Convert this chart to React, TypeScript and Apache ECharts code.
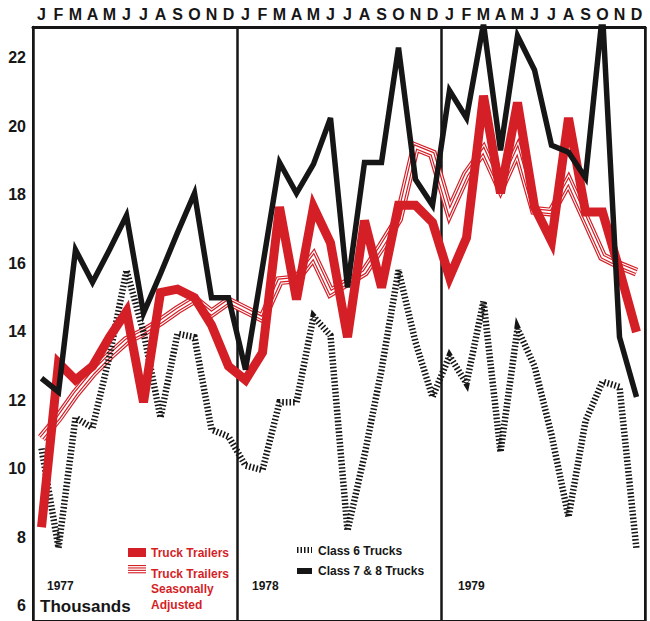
import React, { useEffect, useRef } from 'react';
import * as echarts from 'echarts';

const months = ['J', 'F', 'M', 'A', 'M', 'J', 'J', 'A', 'S', 'O', 'N', 'D'];
const years = ['1977', '1978', '1979'];
const categories = years.flatMap((y) => months.map((m, i) => `${m}-${i}-${y}`));
const yTickValues = [6, 8, 10, 12, 14, 16, 18, 20, 22];
const unitLabel = 'Thousands';

const seriesNames = [
  'Truck Trailers',
  'Truck Trailers\nSeasonally\nAdjusted',
  'Class 6 Trucks',
  'Class 7 & 8 Trucks',
];

// Truck trailers (thousands), Jan 1977 .. Dec 1979
const trailers = [
  8.3, 13.1, 12.6, 13.0, 13.85, 14.6, 11.95, 15.15, 15.25, 15.0, 14.2, 13.0,
  12.6, 13.4, 17.65, 14.95, 17.65, 16.6, 13.85, 17.25, 15.3, 17.7, 17.7, 17.2,
  15.6, 16.75, 20.9, 18.05, 20.7, 17.65, 16.65, 20.25, 17.5, 17.5, 15.8, 14.0,
];

// Truck trailers, seasonally adjusted
const trailersAdjusted = [
  10.9, 11.5, 12.2, 12.8, 13.3, 13.75, 14.0, 14.3, 14.65, 14.95, 14.55, 14.9,
  14.65, 14.4, 15.5, 15.55, 16.2, 15.15, 15.45, 15.75, 16.5, 17.3, 19.4, 19.2,
  17.5, 18.6, 19.3, 18.2, 19.3, 17.55, 17.5, 18.4, 17.3, 16.2, 15.95, 15.75,
];

// Class 6 trucks
const class6 = [
  10.6, 7.7, 11.5, 11.2, 13.3, 15.8, 14.0, 11.5, 13.95, 13.85, 11.15, 10.95,
  10.1, 9.97, 11.95, 11.95, 14.45, 13.9, 8.2, 10.4, 12.9, 15.8, 13.7, 12.1,
  13.3, 12.5, 14.9, 10.5, 14.1, 13.0, 11.0, 8.6, 11.4, 12.55, 12.4, 7.65,
];

// Class 7 & 8 trucks
const class78 = [
  12.65, 12.25, 16.4, 15.45, 16.4, 17.4, 14.55, 15.7, 16.9, 18.05, 15.0, 15.0,
  12.9, 15.9, 18.95, 18.05, 18.9, 20.25, 15.3, 18.95, 18.95, 22.3, 18.45, 17.7,
  21.05, 20.25, 23.0, 19.3, 22.65, 21.65, 19.45, 19.25, 18.5, 23.3, 13.85, 12.1,
];

const RED = '#d41f27';
const BLACK = '#161616';
const FONT = '"Liberation Sans", Arial, Helvetica, sans-serif';

export default function App() {
  const ref = useRef<HTMLDivElement>(null);

  useEffect(() => {
    if (!ref.current) return;
    const chart = echarts.init(ref.current, null, { renderer: 'svg' });

    const base = {
      type: 'line',
      symbol: 'none',
      showSymbol: false,
      silent: true,
      animation: false,
    };

    const hatchLayers = [
      { color: RED, width: 9 },
      { color: '#ffffff', width: 6.6 },
      { color: RED, width: 4.4 },
      { color: '#ffffff', width: 2 },
    ];

    const series: any[] = [
      ...hatchLayers.map((h) => ({
        ...base,
        name: seriesNames[1],
        data: trailersAdjusted,
        lineStyle: { color: h.color, width: h.width, join: 'miter', cap: 'butt' },
      })),
      {
        ...base,
        name: seriesNames[2],
        data: class6,
        lineStyle: { color: BLACK, width: 6.5, type: [1.6, 2], cap: 'butt', join: 'miter' },
      },
      {
        ...base,
        name: seriesNames[0],
        data: trailers,
        lineStyle: { color: RED, width: 9, join: 'miter', miterLimit: 10 },
      },
      {
        ...base,
        name: seriesNames[3],
        data: class78,
        lineStyle: { color: BLACK, width: 5.5, join: 'miter', miterLimit: 10 },
      },
    ];

    const txt = (x: number, y: number, text: string, color: string, size: number, va = 'middle', lh?: number) => ({
      type: 'text',
      x,
      y,
      silent: true,
      style: {
        text,
        fill: color,
        fontSize: size,
        fontWeight: 'bold',
        fontFamily: FONT,
        verticalAlign: va,
        lineHeight: lh,
      },
    });

    const graphic: any[] = [
      // legend: truck trailers
      { type: 'rect', silent: true, shape: { x: 128, y: 548, width: 18, height: 9 }, style: { fill: RED } },
      txt(151, 553, seriesNames[0], RED, 12),
      // legend: seasonally adjusted (striped swatch)
      ...[565, 567.4, 569.8, 572.2].map((y) => ({
        type: 'rect',
        silent: true,
        shape: { x: 128, y, width: 18, height: 1.1 },
        style: { fill: RED },
      })),
      txt(151, 566, seriesNames[1], RED, 12, 'top', 15.5),
      // legend: class 6
      {
        type: 'line',
        silent: true,
        shape: { x1: 297, y1: 550, x2: 312, y2: 550 },
        style: { stroke: BLACK, lineWidth: 6, lineDash: [1.5, 2] },
      },
      txt(318, 551, seriesNames[2], BLACK, 12),
      // legend: class 7 & 8
      { type: 'rect', silent: true, shape: { x: 297, y: 568, width: 15, height: 6 }, style: { fill: BLACK } },
      txt(318, 571, seriesNames[3], BLACK, 12),
      // year labels
      txt(47, 586, years[0], BLACK, 12),
      txt(252, 586, years[1], BLACK, 12),
      txt(458, 586, years[2], BLACK, 12),
      // unit
      txt(40, 606, unitLabel, BLACK, 17),
    ];

    chart.setOption({
      animation: false,
      backgroundColor: '#ffffff',
      grid: {
        left: 33,
        right: 5,
        top: 27,
        bottom: 0,
        show: true,
        borderColor: BLACK,
        borderWidth: 2,
        backgroundColor: 'transparent',
      },
      xAxis: {
        type: 'category',
        position: 'top',
        data: categories,
        boundaryGap: true,
        axisLine: { show: true, lineStyle: { color: BLACK, width: 3 } },
        axisTick: { show: false },
        axisLabel: {
          interval: 0,
          margin: 5,
          color: BLACK,
          fontSize: 16,
          fontWeight: 'bold',
          fontFamily: FONT,
          formatter: (v: string) => v.charAt(0),
        },
        splitLine: {
          show: true,
          interval: (i: number) => i === 12 || i === 24,
          lineStyle: { color: BLACK, width: 2.5 },
        },
      },
      yAxis: {
        type: 'value',
        min: 5.562,
        max: 22.905,
        axisLine: { show: true, lineStyle: { color: BLACK, width: 2.5 } },
        axisTick: { show: false },
        splitLine: { show: false },
        axisLabel: {
          customValues: yTickValues,
          margin: 7,
          color: BLACK,
          fontSize: 16,
          fontWeight: 'bold',
          fontFamily: FONT,
        },
      },
      series,
      graphic,
    });

    return () => {
      chart.dispose();
    };
  }, []);

  return (
    <div
      ref={ref}
      style={{ position: 'absolute', left: 0, top: 0, width: 650, height: 621, background: '#fff' }}
    />
  );
}
